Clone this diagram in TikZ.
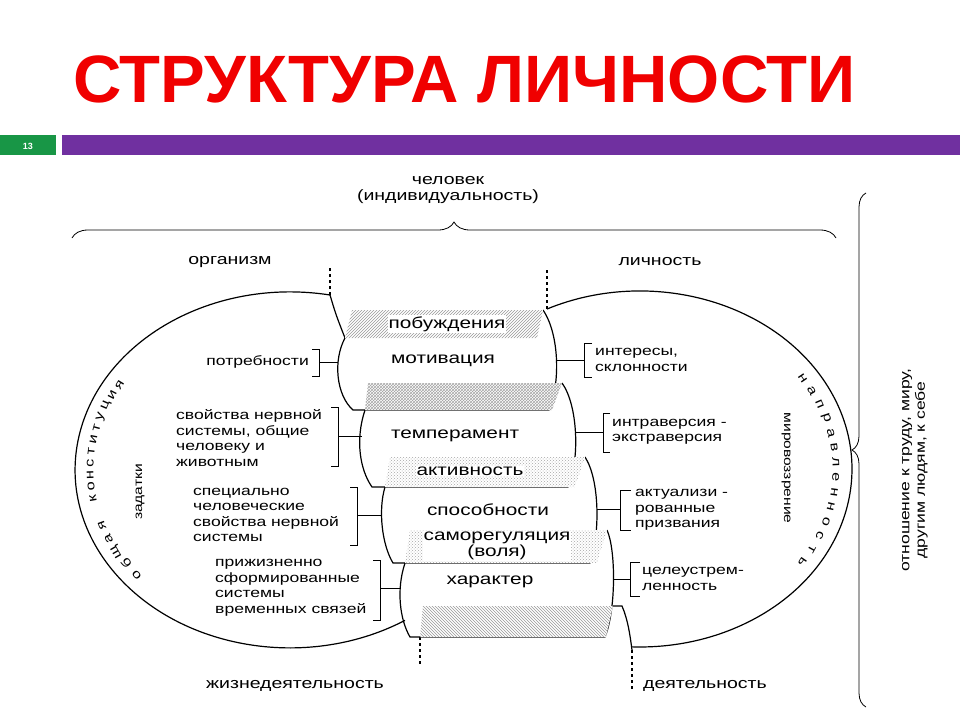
\documentclass[tikz,border=0pt]{standalone}
\usepackage{fontspec}
\setmainfont{Liberation Sans}
\newfontfamily\dfont[FakeStretch=1.3]{Liberation Sans}
\usetikzlibrary{patterns,decorations.pathreplacing,calc}
\definecolor{tred}{RGB}{240,0,0}
\definecolor{sgreen}{RGB}{24,150,70}
\definecolor{spurple}{RGB}{112,48,160}
\tikzset{
  lbl/.style={font=\dfont\fontsize{13.5}{15.5}\selectfont, align=left, inner sep=0pt},
  clbl/.style={font=\dfont\fontsize{16}{16}\selectfont, inner sep=0pt},
  tlbl/.style={font=\dfont\fontsize{15}{16}\selectfont, inner sep=0pt},
  rlbl/.style={font=\dfont\fontsize{13.5}{15.5}\selectfont, align=right, inner sep=0pt},
  arcl/.style={font=\dfont\fontsize{12.5}{14}\selectfont, inner sep=0pt},
  ol/.style={line width=1.2pt},
  br/.style={line width=0.8pt},
  band/.style={ol, fill=white},
}
\begin{document}
\begin{tikzpicture}[x=1pt,y=-1pt]
\useasboundingbox (0,0) rectangle (960,720);
\fill[white] (0,0) rectangle (960,720);
% title
\node[anchor=base west, inner sep=0pt, text=tred, font=\bfseries\fontsize{67}{70}\selectfont] (title) at (73,102) {СТРУКТУРА ЛИЧНОСТИ};
\fill[sgreen] (0,135) rectangle (56,155);
\node[text=white, font=\bfseries\fontsize{9}{10}\selectfont] (num) at (28,146) {13};
\fill[spurple] (62,135) rectangle (960,155);

% top texts
\node[tlbl, align=center] (chel) at (448,190) {человек\\(индивидуальность)};
\coordinate (tbL) at (72,238);
\coordinate (tbR) at (836,238);
\draw[br, decorate, decoration={brace, amplitude=16pt}] (tbL) -- (tbR);
\node[tlbl] (org) at (230,262) {организм};
\node[tlbl] (lich) at (660,262) {личность};
\node[tlbl] (zhiz) at (295,686) {жизнедеятельность};
\node[tlbl] (deyat) at (705,686) {деятельность};

% ellipses
\draw[ol] (330,295) arc[start angle=79.3, end angle=302.3, x radius=215pt, y radius=178pt];
\draw[ol] (547,309) arc[start angle=116, end angle=-92.2, x radius=212pt, y radius=178pt];
\draw[ol] (330,295) .. controls (336,315) .. (345,338);
% dashed
\draw[ol, dashed] (330,295) -- (330,268);
\draw[ol, dashed] (547,309) -- (547,268);
\draw[ol, dashed] (420,637) -- (420,667);
\draw[ol, dashed] (632,650) -- (632,692);

% barrels
\draw[ol] (345,338) .. controls (333,360) and (336,395) .. (353,410) -- (549,410) .. controls (560,385) and (560,335) .. (543,310);
\draw[ol] (365,410) .. controls (355,440) and (360,470) .. (372,487) -- (568,487) .. controls (580,460) and (578,405) .. (562,383);
\draw[ol] (385,487) .. controls (378,510) and (382,545) .. (393,563) -- (590,563) .. controls (600,535) and (600,480) .. (585,457);
\draw[ol] (405,563) .. controls (396,590) and (400,620) .. (410,637) -- (605,637) .. controls (616,610) and (616,550) .. (607,530);
\draw[ol] (613,606) -- (622,606) .. controls (628,620) and (630,635) .. (632,650);

% bands
\path[band] (352,310) -- (543,310) -- (537,338) -- (345,338) -- cycle;
\fill[pattern=north east lines, pattern color=gray!80] (352,310) -- (543,310) -- (537,338) -- (345,338) -- cycle;
\path[band] (368,383) -- (562,383) -- (552,410) -- (365,410) -- cycle;
\fill[pattern=crosshatch, pattern color=gray!70] (368,383) -- (562,383) -- (552,410) -- (365,410) -- cycle;
\path[band] (390,457) -- (585,457) -- (575,487) -- (385,487) -- cycle;
\fill[pattern=crosshatch dots, pattern color=gray!70] (390,457) -- (585,457) -- (575,487) -- (385,487) -- cycle;
\path[band] (410,530) -- (607,530) -- (597,563) -- (405,563) -- cycle;
\fill[pattern=crosshatch dots, pattern color=gray!70] (410,530) -- (607,530) -- (597,563) -- (405,563) -- cycle;
\path[band] (423,606) -- (613,606) -- (606,637) -- (420,637) -- cycle;
\fill[pattern=north west lines, pattern color=gray!80] (423,606) -- (613,606) -- (606,637) -- (420,637) -- cycle;

% centre labels
\node[clbl, fill=white, inner sep=1pt] (pob) at (447,324) {побуждения};
\node[clbl] (mot) at (443,361) {мотивация};
\node[clbl] (temp) at (455,436) {темперамент};
\node[clbl, fill=white, inner sep=1pt] (akt) at (470,471) {активность};
\node[clbl] (spos) at (488,510) {способности};
\node[clbl, fill=white, inner sep=1pt, align=center, font=\dfont\fontsize{16}{14}\selectfont] (samo) at (497,546) {саморегуляция\\(воля)};
\node[clbl] (khar) at (490,582) {характер};

% left side labels
\node[rlbl, anchor=east] (potr) at (309,362) {потребности};
\draw[br] (312,349) -- (319,349) -- (319,376) -- (312,376);
\draw[br] (319,362) -- (338,362);

\node[lbl, anchor=west] (svoi1) at (176,438) {свойства нервной\\системы, общие\\человеку и\\животным};
\draw[br] (331,407) -- (338,407) -- (338,466) -- (331,466);
\draw[br] (338,436) -- (362,436);

\node[lbl, anchor=west] (spec) at (193,515) {специально\\человеческие\\свойства нервной\\системы};
\draw[br] (350,487) -- (357,487) -- (357,545) -- (350,545);
\draw[br] (357,515) -- (382,515);

\node[lbl, anchor=west] (prizh) at (215,588) {прижизненно\\сформированные\\системы\\временных связей};
\draw[br] (373,560) -- (380,560) -- (380,620) -- (373,620);
\draw[br] (380,588) -- (400,588);

% right side labels
\node[lbl, anchor=west] (inter) at (595,360) {интересы,\\склонности};
\draw[br] (592,343) -- (584,343) -- (584,377) -- (592,377);
\draw[br] (556,360) -- (584,360);

\node[lbl, anchor=west] (intra) at (612,432) {интраверсия -\\экстраверсия};
\draw[br] (610,413) -- (603,413) -- (603,452) -- (610,452);
\draw[br] (576,432) -- (603,432);

\node[lbl, anchor=west] (aktu) at (635,510) {актуализи -\\рованные\\призвания};
\draw[br] (631,490) -- (620,490) -- (620,530) -- (631,530);
\draw[br] (597,509) -- (620,509);

\node[lbl, anchor=west] (tsel) at (642,579) {целеустрем-\\ленность};
\draw[br] (640,562) -- (630,562) -- (630,596) -- (640,596);
\draw[br] (613,579) -- (630,579);

% rotated texts
\node[lbl, rotate=-90, font=\dfont\fontsize{12}{14}\selectfont] (mir) at (786,468) {мировоззрение};
\node[lbl, rotate=90, font=\dfont\fontsize{12}{14}\selectfont] (zad) at (140,492) {задатки};
\foreach \ch [count=\i from 0] in {н,а,п,р,а,в,л,е,н,н,о,с,т,ь}{
  \pgfmathsetmacro{\ang}{34-68*\i/13}
  \node[arcl, rotate=\ang-90] at ($(640,470)+({196*cos(\ang)},{-164*sin(\ang)})$) {\ch};
}
\foreach \ch [count=\i from 0] in {о,б,щ,а,я}{
  \pgfmathsetmacro{\ang}{220-5*\i}
  \node[arcl, rotate=\ang-90] at ($(290,470)+({200*cos(\ang)},{-163*sin(\ang)})$) {\ch};
}
\foreach \ch [count=\i from 0] in {к,о,н,с,т,и,т,у,ц,и,я}{
  \pgfmathsetmacro{\ang}{190-4.15*\i}
  \node[arcl, rotate=\ang-90] at ($(290,470)+({200*cos(\ang)},{-163*sin(\ang)})$) {\ch};
}

% right brace
\coordinate (rbT) at (866,193);
\coordinate (rbB) at (866,707);
\draw[br, decorate, decoration={brace, amplitude=14pt, mirror}] (rbT) -- (rbB);
\node[lbl, rotate=90, align=center] (otn) at (915,470) {отношение к труду, миру,\\другим людям, к себе};
\end{tikzpicture}
\end{document}
